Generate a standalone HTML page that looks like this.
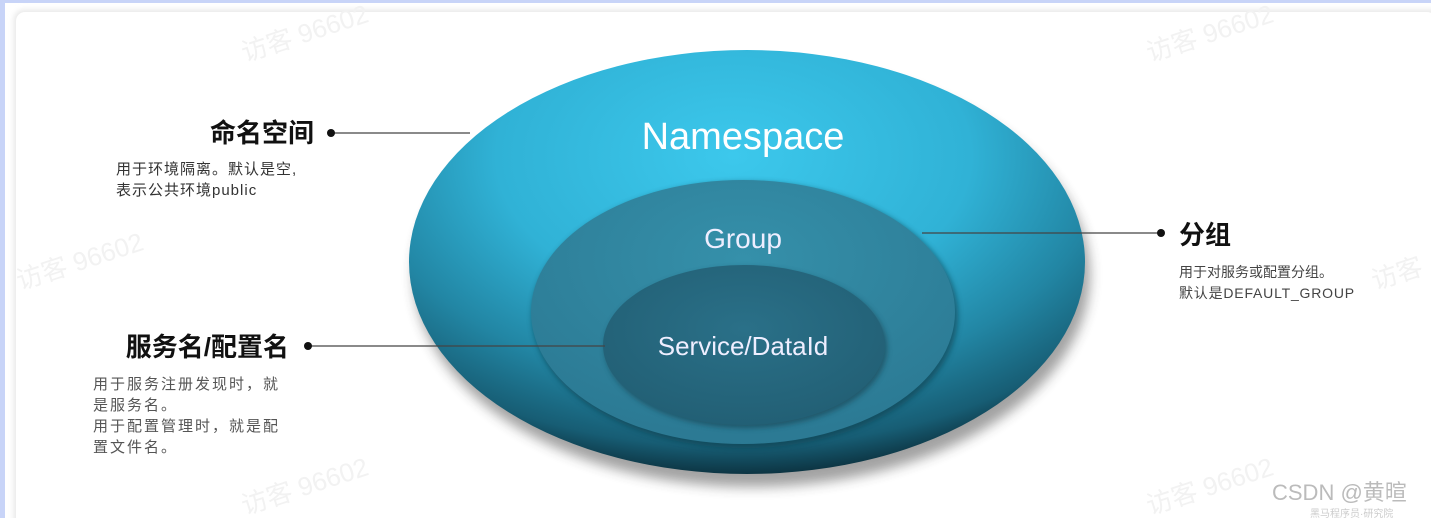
<!DOCTYPE html>
<html><head><meta charset="utf-8"><style>
html,body{margin:0;padding:0;width:1431px;height:518px;overflow:hidden;background:#fff;}
</style></head><body>
<svg width="1431" height="518" viewBox="0 0 1431 518" xmlns="http://www.w3.org/2000/svg" font-family="'Liberation Sans','Noto Sans CJK SC',sans-serif">
<defs>
 <radialGradient id="outer" cx="0.48" cy="0.25" r="0.78">
  <stop offset="0" stop-color="#3cc8ec"/>
  <stop offset="0.45" stop-color="#30b2d6"/>
  <stop offset="0.7" stop-color="#2286a4"/>
  <stop offset="0.88" stop-color="#175d74"/>
  <stop offset="1" stop-color="#08222c"/>
 </radialGradient>
 <radialGradient id="grp" cx="0.5" cy="0.3" r="0.8">
  <stop offset="0" stop-color="#3590aa"/>
  <stop offset="1" stop-color="#2a7690"/>
 </radialGradient>
 <radialGradient id="inn" cx="0.5" cy="0.4" r="0.7">
  <stop offset="0" stop-color="#2a7088"/>
  <stop offset="1" stop-color="#215d72"/>
 </radialGradient>
 <filter id="sh" x="-20%" y="-20%" width="140%" height="150%"><feGaussianBlur stdDeviation="6"/></filter>
 <filter id="cs" x="-5%" y="-5%" width="110%" height="110%"><feGaussianBlur stdDeviation="3"/></filter>
</defs>
<rect x="0" y="0" width="1431" height="518" fill="#fff"/>
<rect x="0" y="0" width="1431" height="3" fill="#c8d4f8"/>
<rect x="0" y="0" width="5" height="518" fill="#c8d4f8"/>
<rect x="14" y="10" width="1430" height="520" rx="10" fill="#e6e6e6" filter="url(#cs)"/>
<rect x="16" y="12" width="1420" height="520" rx="9" fill="#fff"/>
<g fill="#f2f2f2" font-size="26">
 <text transform="translate(245,62) rotate(-18)">访客 96602</text>
 <text transform="translate(20,290) rotate(-18)">访客 96602</text>
 <text transform="translate(245,515) rotate(-18)">访客 96602</text>
 <text transform="translate(1150,62) rotate(-18)">访客 96602</text>
 <text transform="translate(1150,515) rotate(-18)">访客 96602</text>
 <text transform="translate(1375,290) rotate(-18)">访客</text>
</g>
<ellipse cx="752" cy="275" rx="338" ry="212" fill="#333" opacity="0.45" filter="url(#sh)"/>
<ellipse cx="747" cy="262" rx="338" ry="212" fill="url(#outer)"/>
<ellipse cx="745" cy="315" rx="213" ry="133" fill="#0f3c4c" opacity="0.6" filter="url(#cs)"/>
<ellipse cx="743" cy="312" rx="212" ry="132" fill="url(#grp)"/>
<ellipse cx="746" cy="348" rx="141" ry="80" fill="#123c4c" opacity="0.6" filter="url(#cs)"/>
<ellipse cx="744" cy="345" rx="141" ry="80" fill="url(#inn)"/>
<text x="743" y="149" text-anchor="middle" fill="#fff" font-size="38">Namespace</text>
<text x="743" y="248" text-anchor="middle" fill="#eef" font-size="28">Group</text>
<text x="743" y="355" text-anchor="middle" fill="#eef" font-size="26">Service/DataId</text>
<g stroke="#444" stroke-width="1.3">
 <line x1="331" y1="133" x2="470" y2="133"/>
 <line x1="308" y1="346" x2="605" y2="346"/>
 <line x1="922" y1="233" x2="1160" y2="233"/>
</g>
<circle cx="331" cy="133" r="4" fill="#111"/>
<circle cx="308" cy="346" r="4" fill="#111"/>
<circle cx="1161" cy="233" r="4" fill="#111"/>
<text x="314" y="142" text-anchor="end" font-size="26" font-weight="bold" fill="#111">命名空间</text>
<g font-size="15" fill="#333" letter-spacing="1">
 <text x="116" y="174">用于环境隔离。默认是空,</text>
 <text x="116" y="195">表示公共环境public</text>
</g>
<text x="289" y="356" text-anchor="end" font-size="26" font-weight="bold" fill="#111">服务名/配置名</text>
<g font-size="15" fill="#555" letter-spacing="2">
 <text x="93" y="389">用于服务注册发现时，就</text>
 <text x="93" y="410">是服务名。</text>
 <text x="93" y="431">用于配置管理时，就是配</text>
 <text x="93" y="452">置文件名。</text>
</g>
<text x="1179" y="244" font-size="26" font-weight="bold" fill="#111">分组</text>
<g font-size="14" fill="#444">
 <text x="1179" y="277">用于对服务或配置分组。</text>
 <text x="1179" y="298" letter-spacing="0.8">默认是DEFAULT_GROUP</text>
</g>
<text x="1272" y="500" font-size="22" fill="#bbb">CSDN @黄暄</text>
<text x="1310" y="517" font-size="10" fill="#ccc">黑马程序员·研究院</text>
</svg>
</body></html>
